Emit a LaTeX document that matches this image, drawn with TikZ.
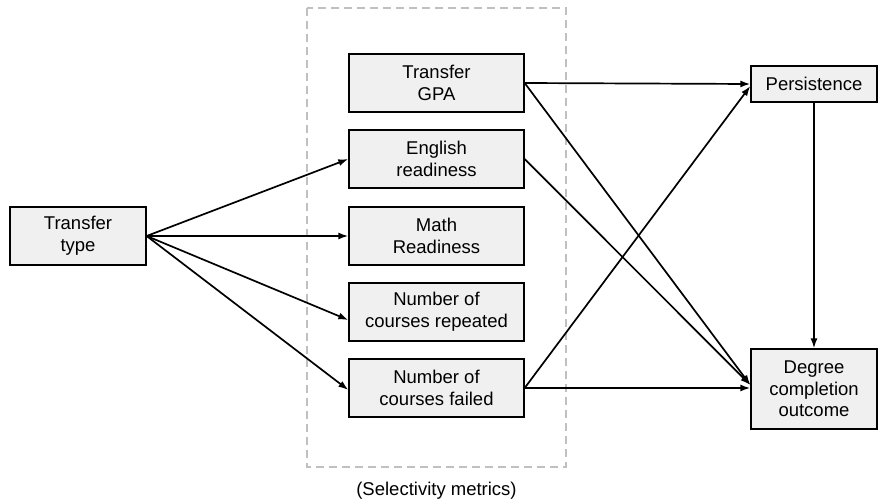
\documentclass[tikz,border=0pt]{standalone}
\usepackage{fontspec}
\setmainfont{Liberation Sans}
\usetikzlibrary{arrows.meta}
\definecolor{boxfill}{HTML}{F0F0F0}
\definecolor{dashgray}{HTML}{C0C0C0}
\begin{document}
\begin{tikzpicture}[x=1pt,y=-1pt,
  box/.style={draw=black, fill=boxfill, line width=1.3pt, align=center, inner sep=0pt,
    font=\fontsize{18.5}{21.7}\selectfont},
  arr/.style={line width=1.7pt, -{Latex[length=10pt,width=7pt]}}]
\useasboundingbox (0,0) rectangle (878,503);
\draw[dashgray, line width=2pt, dash pattern=on 8pt off 5pt] (307,8) rectangle (566,467);
\node[box, minimum width=136pt, minimum height=58pt] (tt) at (78,236) {Transfer\\type};
\node[box, minimum width=175pt, minimum height=58pt] (gpa) at (436.5,83) {Transfer\\GPA};
\node[box, minimum width=175pt, minimum height=58pt] (eng) at (436.5,159) {English\\readiness};
\node[box, minimum width=175pt, minimum height=58pt] (math) at (436.5,236) {Math\\Readiness};
\node[box, minimum width=175pt, minimum height=58pt] (rep) at (436.5,312) {Number of\\courses repeated};
\node[box, minimum width=175pt, minimum height=58pt] (fail) at (436.5,388) {Number of\\courses failed};
\node[box, minimum width=126pt, minimum height=36pt] (pers) at (814,84) {Persistence};
\node[box, minimum width=126pt, minimum height=80pt] (deg) at (814,389) {Degree\\completion\\outcome};
\node[font=\fontsize{18.5}{21.7}\selectfont] (sel) at (436.5,491) {(Selectivity metrics)};
\draw[arr] (tt.east) -- (eng.west);
\draw[arr] (tt.east) -- (math.west);
\draw[arr] (tt.east) -- ([yshift=-8pt]rep.west);
\draw[arr] (tt.east) -- ([yshift=-2pt]fail.west);
\draw[arr] (gpa.east) -- (pers.west);
\draw[arr] (gpa.east) -- ([yshift=4pt]deg.west);
\draw[arr] (eng.east) -- ([yshift=4pt]deg.west);
\draw[arr] (fail.east) -- ([yshift=-2pt]pers.west);
\draw[arr] (fail.east) -- ([yshift=1pt]deg.west);
\draw[arr] (pers.south) -- (deg.north);
\end{tikzpicture}
\end{document}
